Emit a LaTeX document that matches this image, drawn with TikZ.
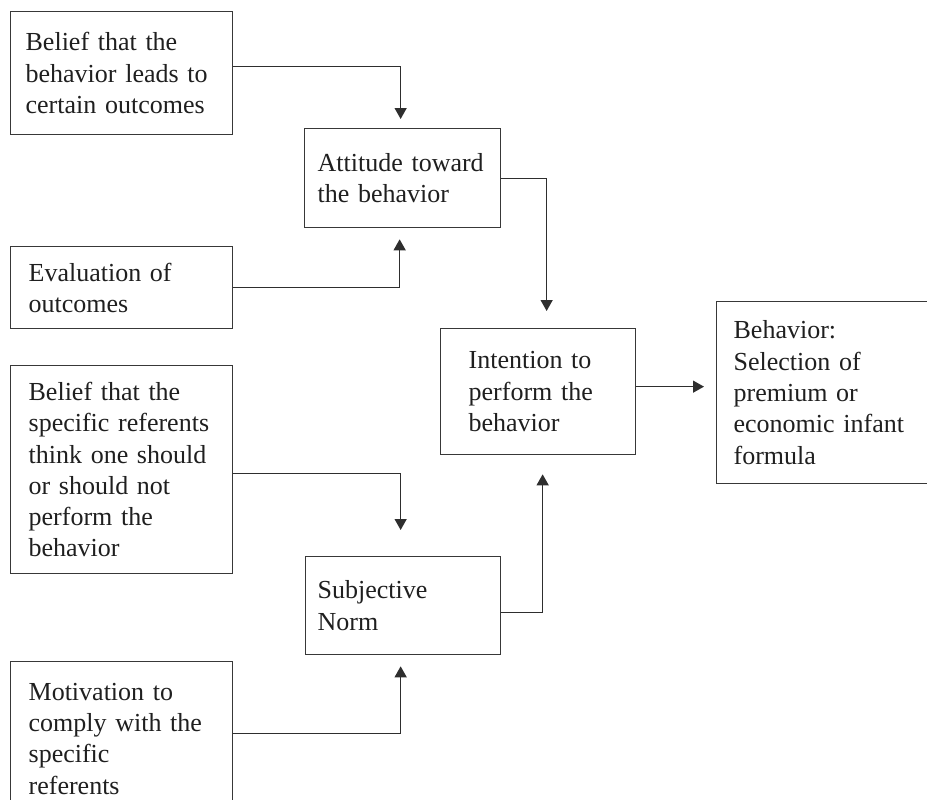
\documentclass[tikz,border=0pt]{standalone}
\usepackage{fontspec}
\setmainfont{Liberation Serif}
\usetikzlibrary{arrows.meta}
\begin{document}
\begin{tikzpicture}[x=1pt,y=1pt,
  boxnode/.style={draw=black!78, line width=1.3pt, rectangle, anchor=north west,
    inner xsep=0pt, inner ysep=0pt, align=left, text=black!88,
    font=\fontsize{26}{31.3}\selectfont},
  lpad/.style={execute at begin node={\leftskip=#1pt\relax}},
  arr/.style={draw=black!82, line width=1.3pt, -{Triangle[length=11pt,width=12pt]}}
]
\useasboundingbox (0,0) rectangle (927,-800);

\node[boxnode, lpad=15, text width=222pt, minimum width=222pt, minimum height=123pt] (b1) at (10,-11)
  {Belief that the\\behavior leads to\\certain outcomes};
\node[boxnode, lpad=13, text width=196pt, minimum width=196pt, minimum height=99pt] (att) at (304,-128)
  {Attitude toward\\the behavior};
\node[boxnode, lpad=18, text width=222pt, minimum width=222pt, minimum height=82pt] (eval) at (10,-246)
  {Evaluation of\\outcomes};
\node[boxnode, lpad=18, text width=222pt, minimum width=222pt, minimum height=208pt] (bel) at (10,-365)
  {Belief that the\\specific referents\\think one should\\or should not\\perform the\\behavior};
\node[boxnode, lpad=28, text width=195pt, minimum width=195pt, minimum height=126pt] (int) at (440,-328)
  {Intention to\\perform the\\behavior};
\node[boxnode, lpad=17, text width=229pt, minimum width=229pt, minimum height=182pt] (beh) at (716,-301)
  {Behavior:\\Selection of\\premium or\\economic infant\\formula};
\node[boxnode, lpad=12, text width=195pt, minimum width=195pt, minimum height=98pt] (subj) at (305,-556)
  {Subjective\\Norm};
\node[boxnode, lpad=18, text width=222pt, minimum width=222pt, minimum height=154pt] (mot) at (10,-661)
  {Motivation to\\comply with the\\specific\\referents};

\coordinate (s1) at ([yshift=6.5]b1.east);
\coordinate (s2) at (eval.east);
\coordinate (s3) at ([yshift=-0.5]att.east);
\coordinate (s4) at ([yshift=5]int.east);
\coordinate (s5) at ([yshift=-4]bel.east);
\coordinate (s6) at ([yshift=5]mot.east);
\coordinate (s7) at ([yshift=-7]subj.east);
\coordinate (t4) at ([xshift=-12]beh.west);

\draw[arr] (s1) -| ([xshift=-2,yshift=9]att.north);
\draw[arr] (s2) -| ([xshift=-3,yshift=-11]att.south);
\draw[arr] (s3) -| ([xshift=8.5,yshift=17]int.north);
\draw[arr] (s4) -- (s4 -| t4);
\draw[arr] (s5) -| ([xshift=-2.5,yshift=26]subj.north);
\draw[arr] (s6) -| ([xshift=-2.5,yshift=-11]subj.south);
\draw[arr] (s7) -| ([xshift=4.5,yshift=-19]int.south);
\end{tikzpicture}
\end{document}
